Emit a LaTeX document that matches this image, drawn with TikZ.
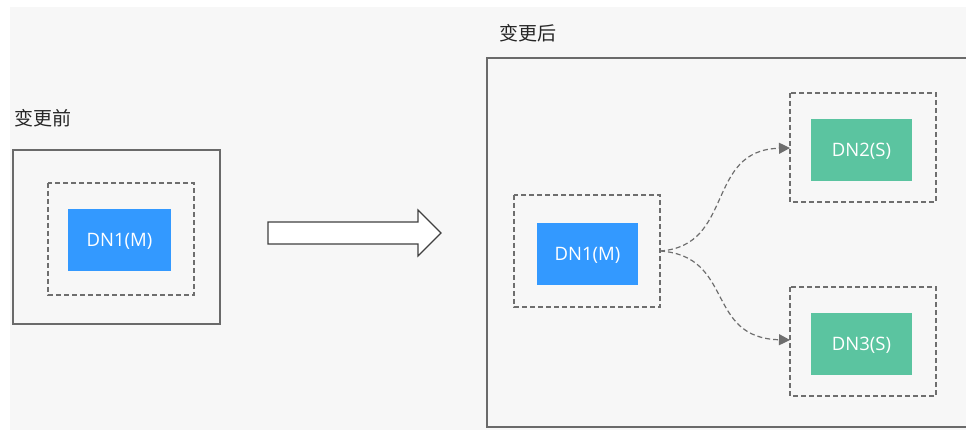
\documentclass[tikz,border=0pt]{standalone}
\usepackage{fontspec}
\setmainfont{Open Sans}
\newfontfamily\cjk{Noto Sans CJK SC}
\usetikzlibrary{arrows.meta}
\definecolor{bggray}{HTML}{F7F7F7}
\definecolor{boxline}{HTML}{6A6A6A}
\definecolor{dashline}{HTML}{6E6E6E}
\definecolor{dnblue}{HTML}{3399FF}
\definecolor{dngreen}{HTML}{5BC4A0}
\tikzset{
  outerbox/.style={draw=boxline, line width=1.2pt, fill=none},
  dashbox/.style={draw=dashline, line width=1.1pt, dash pattern=on 5pt off 3pt, fill=none},
  dnbox/.style={text=white, font=\fontsize{18.5}{20}\selectfont, inner sep=0pt},
  titletext/.style={font=\cjk\fontsize{19}{21}\selectfont, text=black!85, inner sep=0pt, anchor=west},
  flow/.style={draw=dashline, line width=1.2pt, dash pattern=on 5pt off 3pt, -{Triangle[length=11pt,width=11pt]}}
}
\begin{document}
\begin{tikzpicture}[x=1pt,y=-1pt]
\useasboundingbox (0,0) rectangle (966,430);
\fill[white] (0,0) rectangle (966,430);
\fill[bggray] (10,7) rectangle (966,430);

% left side
\node[titletext] (tbefore) at (14,118) {变更前};
\draw[outerbox] (13,150) rectangle (220,324);
\draw[dashbox] (48,183) rectangle (194,295);
\fill[dnblue] (68,209) rectangle (171,271);
\node[dnbox] (dnA) at (119.5,241) {DN1(M)};

% hollow arrow
\draw[draw=black!75, line width=1.1pt, fill=white, line join=miter]
  (268,222) -- (418,222) -- (418,210) -- (441,233) -- (418,256) -- (418,244) -- (268,244) -- cycle;

% right side
\node[titletext] (tafter) at (499,33) {变更后};
\draw[outerbox] (970,58) -- (487,58) -- (487,427) -- (970,427);

\draw[dashbox] (514,195) rectangle (660,307);
\fill[dnblue] (537,223) rectangle (638,285);
\node[dnbox] (dnB) at (587.5,255) {DN1(M)};
\coordinate (src) at (660,251);

\draw[dashbox] (790,93) rectangle (936,202);
\fill[dngreen] (811,119) rectangle (912,181);
\node[dnbox] (dnC) at (861.5,151) {DN2(S)};
\coordinate (dstC) at (790,148);

\draw[dashbox] (790,287) rectangle (936,396);
\fill[dngreen] (811,313) rectangle (912,375);
\node[dnbox] (dnD) at (861.5,345) {DN3(S)};
\coordinate (dstD) at (790,340);

\draw[flow] (src) .. controls (735,246) and (705,150) .. (dstC);
\draw[flow] (src) .. controls (735,256) and (705,338) .. (dstD);
\end{tikzpicture}
\end{document}
